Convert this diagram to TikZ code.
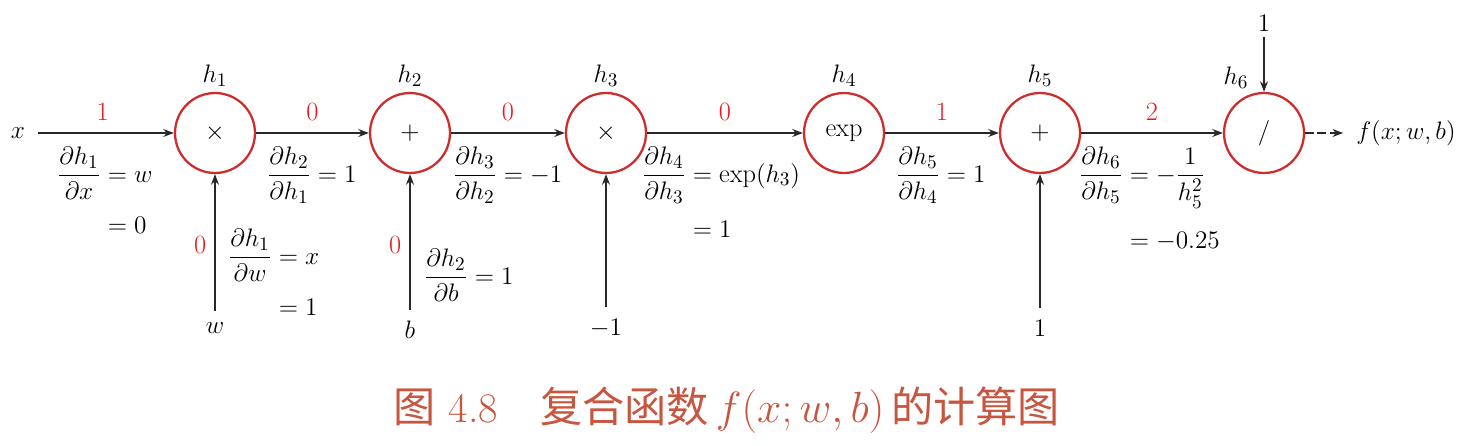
\documentclass[tikz,border=0pt]{standalone}
\usepackage{amsmath,amssymb}
\usepackage{fontspec}
\newfontfamily\cjkfont{Noto Sans CJK SC}
\usepackage{xcolor}
\usepackage{tikz}
\usetikzlibrary{arrows.meta,positioning}
\tikzset{>=stealth}
\definecolor{nodered}{RGB}{205,45,45}
\definecolor{gradred}{RGB}{235,25,30}
\definecolor{arrowgray}{RGB}{40,40,40}
\definecolor{captionred}{RGB}{198,86,64}

\begin{document}
\begin{tikzpicture}[
		x=0.02cm, y=-0.02cm,
		>={Stealth[length=6pt,width=4.5pt]},
		node distance=2pt,
		font=\fontsize{15}{18}\selectfont,
		op/.style={circle, draw=nodered, line width=1.3pt, minimum size=1.6cm,
			inner sep=0pt},
		arrow/.style={->, line width=1.2pt, draw=arrowgray},
		grad/.style={text=gradred, yshift=3pt},
		deriv/.style={anchor=base west, inner sep=0pt},
		hlabel/.style={inner sep=1pt}
		]
		\useasboundingbox (0,0) rectangle (1480,446);
		
		% Operation nodes
		\node[op] (h1) at (215,133) {$\times$};
		\node[op] (h2) at (410,133) {$+$};
		\node[op] (h3) at (606,133) {$\times$};
		\node[op] (h4) at (844,133) {$\exp$};
		\node[op] (h5) at (1040,133) {$+$};
		\node[op] (h6) at (1264,133) {$/$};
		
		% Node names
		\node[hlabel, above=of h1] (h1lab) {$h_1$};
		\node[hlabel, above=of h2] (h2lab) {$h_2$};
		\node[hlabel, above=of h3] (h3lab) {$h_3$};
		\node[hlabel, above=of h4] (h4lab) {$h_4$};
		\node[hlabel, above=of h5] (h5lab) {$h_5$};
		\node[hlabel] (h6lab) at (1236,78) {$h_6$};
		
		% Inputs and output
		\node (x) at (18,133) {$x$};
		\node (w) at (215,328) {$w$};
		\node (b) at (410,330) {$b$};
		\node (m1) at (606,328) {$-1$};
		\node (one5) at (1040,328) {$1$};
		\node (one6) at (1264,23) {$1$};
		\node (f) at (1406,133) {$f(x;w,b)$};
		
		% Forward arrows with gradient values
		\draw[arrow, shorten <=4pt] (x) -- node[grad, above] (g1) {1} (h1);
		\draw[arrow] (h1) -- node[grad, above] (g2) {0} (h2);
		\draw[arrow] (h2) -- node[grad, above] (g3) {0} (h3);
		\draw[arrow] (h3) -- node[grad, above] (g4) {0} (h4);
		\draw[arrow] (h4) -- node[grad, above] (g5) {1} (h5);
		\draw[arrow] (h5) -- node[grad, above] (g6) {2} (h6);
		\draw[arrow, dashed, dash pattern=on 5pt off 2pt, shorten >=4pt] (h6) -- (f);
		
		% Side inputs
		\draw[arrow, shorten <=3pt] (w) -- node[grad, left, yshift=-3pt, xshift=-1pt] (gw) {0} (h1);
		\draw[arrow, shorten <=3pt] (b) -- node[grad, left, yshift=-3pt, xshift=-1pt] (gb) {0} (h2);
		\draw[arrow, shorten <=3pt] (m1) -- (h3);
		\draw[arrow, shorten <=3pt] (one5) -- (h5);
		\draw[arrow] (one6) -- (h6);
		
		% Local derivatives
		\node[deriv] (d1) at (57,182)
		{$\begin{aligned}[t]\frac{\partial h_1}{\partial x}&=w\\[3pt]&=0\end{aligned}$};
		\node[deriv] (d2) at (228,264)
		{$\begin{aligned}[t]\frac{\partial h_1}{\partial w}&=x\\[3pt]&=1\end{aligned}$};
		\node[deriv] (d3) at (267,182) {$\dfrac{\partial h_2}{\partial h_1}=1$};
		\node[deriv] (d4) at (424,284) {$\dfrac{\partial h_2}{\partial b}=1$};
		\node[deriv] (d5) at (453,182) {$\dfrac{\partial h_3}{\partial h_2}=-1$};
		\node[deriv] (d6) at (642,182)
		{$\begin{aligned}[t]\frac{\partial h_4}{\partial h_3}&=\exp(h_3)\\[3pt]&=1\end{aligned}$};
		\node[deriv] (d7) at (896,182) {$\dfrac{\partial h_5}{\partial h_4}=1$};
		\node[deriv] (d8) at (1079,182)
		{$\begin{aligned}[t]\frac{\partial h_6}{\partial h_5}&=-\frac{1}{h_5^2}\\[6pt]&=-0.25\end{aligned}$};
		
		% Caption
		\node[text=captionred, font=\fontsize{24}{28}\selectfont] (caption) at (727,410)
		{{\cjkfont 图} 4.8\quad{\cjkfont 复合函数}\,$f(x;w,b)$\,{\cjkfont 的计算图}};
		
	\end{tikzpicture}
\end{document}
